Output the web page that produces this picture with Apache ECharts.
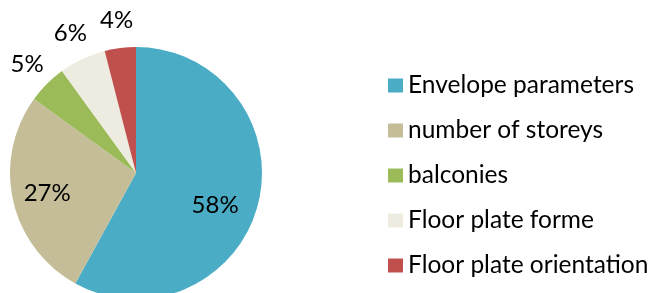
<!DOCTYPE html>
<html>
<head>
<meta charset="utf-8">
<script src="https://cdn.jsdelivr.net/npm/echarts@6/dist/echarts.min.js"></script>
<style>
html, body { margin: 0; padding: 0; background: #fff; }
#chart { width: 653px; height: 293px; }
</style>
</head>
<body>
<div id="chart"></div>
<script>
var names = ['Envelope parameters', 'number of storeys', 'balconies', 'Floor plate forme', 'Floor plate orientation'];
var values = [58, 27, 5, 6, 4];
var colors = ['#4BACC6', '#C4BD97', '#9BBB59', '#EEECE1', '#C0504D'];
// which slices carry their label inside the pie
var insideLabel = [true, true, false, false, false];

var chart = echarts.init(document.getElementById('chart'));
var font = 'Lato';

function pieData(showFn) {
	return names.map(function (n, i) {
		var item = {
			name: n,
			value: values[i],
			label: { show: showFn(i) }
		};
		// Excel nudged the big label a little down-left
		if (i === 0) item.label.offset = [-9, 10];
		return item;
	});
}

var labelStyle = {
	position: 'inside',
	formatter: '{c}%',
	color: '#000',
	fontFamily: font,
	fontSize: 24
};

var option = {
	animation: false,
	color: colors,
	legend: {
		orient: 'vertical',
		left: 388,
		top: 73,
		padding: 0,
		itemWidth: 15,
		itemHeight: 14,
		itemGap: 20,
		icon: 'rect',
		data: names,
		textStyle: {
			color: '#000',
			fontFamily: font,
			fontSize: 24.5,
			lineHeight: 24
		}
	},
	series: [
		{
			name: 'main',
			type: 'pie',
			center: [136, 173],
			radius: 126,
			startAngle: 90,
			clockwise: true,
			label: { show: false },
			labelLine: { show: false },
			emphasis: { disabled: true },
			data: pieData(function () { return false; })
		},
		{
			// labels for the big slices
			name: 'inner',
			type: 'pie',
			silent: true,
			center: [136, 173],
			radius: [0, 176],
			startAngle: 90,
			itemStyle: { color: 'transparent' },
			label: labelStyle,
			labelLine: { show: false },
			data: pieData(function (i) { return insideLabel[i]; })
		},
		{
			// labels for the small slices, outside the pie
			name: 'outer',
			type: 'pie',
			silent: true,
			center: [136, 173],
			radius: [124, 178],
			startAngle: 90,
			itemStyle: { color: 'transparent' },
			label: labelStyle,
			labelLine: { show: false },
			data: pieData(function (i) { return !insideLabel[i]; })
		}
	]
};
chart.setOption(option);
</script>
</body>
</html>
